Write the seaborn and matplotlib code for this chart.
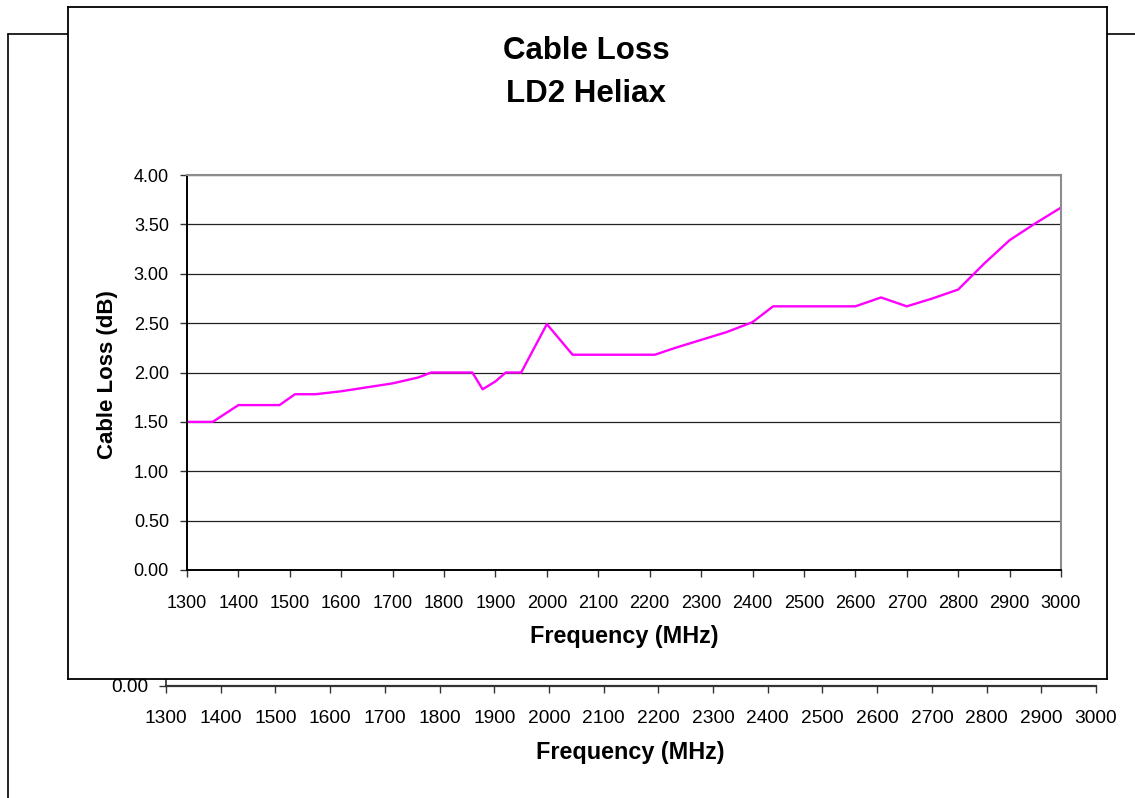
import matplotlib
matplotlib.use("Agg")
import matplotlib.pyplot as plt
from matplotlib.lines import Line2D
import seaborn as sns

# values
freq_mhz = [1300, 1350, 1400, 1480, 1510, 1550, 1600, 1650, 1700, 1750, 1775,
            1855, 1875, 1900, 1920, 1950, 2000, 2050, 2210, 2250, 2300, 2350,
            2400, 2440, 2600, 2650, 2700, 2750, 2800, 2850, 2900, 2950, 3000]
loss_db = [1.50, 1.50, 1.67, 1.67, 1.78, 1.78, 1.81, 1.85, 1.89, 1.95, 2.00,
           2.00, 1.83, 1.91, 2.00, 2.00, 2.49, 2.18, 2.18, 2.25, 2.33, 2.41,
           2.51, 2.67, 2.67, 2.76, 2.67, 2.75, 2.84, 3.10, 3.34, 3.51, 3.67]

x_ticks = list(range(1300, 3001, 100))
y_ticks = [0.0, 0.5, 1.0, 1.5, 2.0, 2.5, 3.0, 3.5, 4.0]
y_labels = ["%.2f" % v for v in y_ticks]
title_lines = ["Cable Loss", "LD2 Heliax"]

sns.set_theme(style="white")
plt.rcParams["font.family"] = ["Liberation Sans", "DejaVu Sans"]
plt.rcParams["text.color"] = "black"
plt.rcParams["axes.labelcolor"] = "black"
plt.rcParams["xtick.color"] = "black"
plt.rcParams["ytick.color"] = "black"

W, H = 1135, 798
fig = plt.figure(figsize=(W / 100, H / 100), dpi=100)
fig.patch.set_facecolor("white")


def box(x0, y0, x1, y1):
    # pixel box (top-left origin) -> figure fraction rect
    return [x0 / W, 1 - y1 / H, (x1 - x0) / W, (y1 - y0) / H]


def fx(x):
    return x / W


def fy(y):
    return 1 - y / H


# frame of the chart lying behind
fig.add_artist(Line2D([fx(8), fx(8)], [fy(34), 0], transform=fig.transFigure,
                      color="black", lw=1.2, zorder=-1))
fig.add_artist(Line2D([fx(8), 1], [fy(34), fy(34)], transform=fig.transFigure,
                      color="black", lw=1.2, zorder=-1))

# background chart axis (mostly hidden)
ax_bg = fig.add_axes(box(166, 300, 1096, 686), zorder=0)
ax_bg.set_facecolor("none")
ax_bg.set_xlim(1300, 3000)
ax_bg.set_ylim(0, 4)
ax_bg.set_xticks(x_ticks)
ax_bg.set_xticklabels([str(t) for t in x_ticks])
ax_bg.set_yticks([0])
ax_bg.set_yticklabels(["0.00"])
for s in ["top", "right"]:
    ax_bg.spines[s].set_visible(False)
ax_bg.spines["bottom"].set_color("#333333")
ax_bg.spines["bottom"].set_linewidth(1.6)
ax_bg.spines["left"].set_color("#333333")
ax_bg.tick_params(axis="x", direction="out", length=5, width=1, color="#333333",
                  bottom=True, labelsize=13.8, pad=12)
ax_bg.tick_params(axis="y", direction="out", length=5, width=1, color="#333333",
                  left=True, labelsize=13.8, pad=8)
fig.text(fx(630), fy(752), "Frequency (MHz)", ha="center", va="center",
         fontsize=16.8, fontweight="bold")

# foreground chart frame
ax_box = fig.add_axes(box(68, 7, 1107, 679), zorder=1)
ax_box.set_facecolor("white")
ax_box.set_xticks([])
ax_box.set_yticks([])
for s in ax_box.spines.values():
    s.set_color("black")
    s.set_linewidth(1.3)

# plot area
ax = fig.add_axes(box(187, 175, 1061, 570), zorder=2)
ax.set_facecolor("white")
sns.lineplot(x=freq_mhz, y=loss_db, ax=ax, color="#FF00FF", linewidth=1.7)
ax.set_xlim(1300, 3000)
ax.set_ylim(0, 4)
ax.set_xticks(x_ticks)
ax.set_xticklabels([str(t) for t in x_ticks])
ax.set_yticks(y_ticks)
ax.set_yticklabels(y_labels)
ax.grid(axis="y", color="#222222", linewidth=0.9)
ax.grid(axis="x", visible=False)
ax.set_axisbelow(True)
for s in ["top", "right"]:
    ax.spines[s].set_color("#8c8c8c")
    ax.spines[s].set_linewidth(1.5)
for s in ["left", "bottom"]:
    ax.spines[s].set_color("black")
    ax.spines[s].set_linewidth(1.4)
ax.tick_params(axis="x", direction="out", length=5, width=1, color="#333333",
               bottom=True, labelsize=13, pad=13)
ax.tick_params(axis="y", direction="out", length=5, width=1, color="#333333",
               left=True, labelsize=13, pad=8)

fig.text(fx(586), fy(51), title_lines[0], ha="center", va="center",
         fontsize=22.5, fontweight="bold")
fig.text(fx(586), fy(94), title_lines[1], ha="center", va="center",
         fontsize=22.5, fontweight="bold")
fig.text(fx(624), fy(636), "Frequency (MHz)", ha="center", va="center",
         fontsize=16.8, fontweight="bold")
fig.text(fx(107), fy(375), "Cable Loss (dB)", ha="center", va="center",
         rotation=90, fontsize=16, fontweight="bold")

fig.savefig("out.png", dpi=100)
